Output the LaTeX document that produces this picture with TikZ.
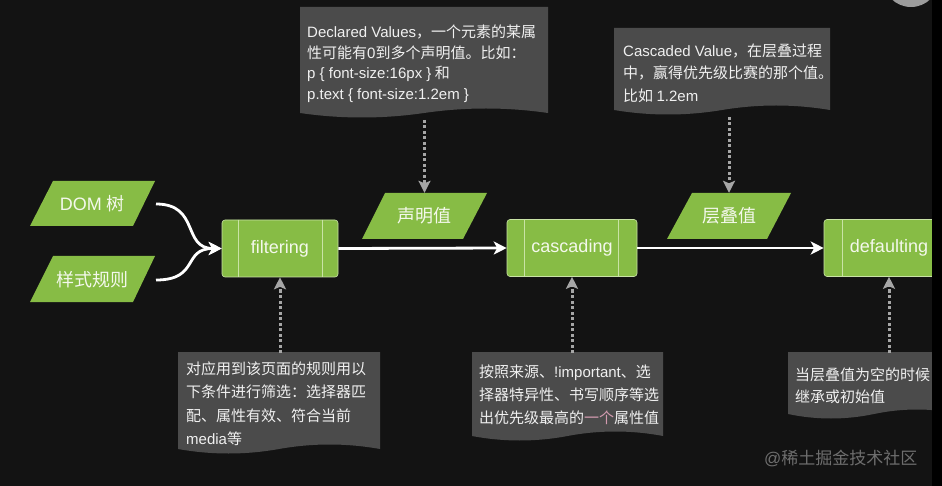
\documentclass[tikz,border=0pt]{standalone}
\usepackage{fontspec}
\setmainfont{Noto Sans CJK SC}
\newfontfamily\lat{Liberation Sans}
\usetikzlibrary{arrows.meta,calc}
\definecolor{bgc}{HTML}{131313}
\definecolor{callfill}{HTML}{4B4B4B}
\definecolor{calltxt}{HTML}{F0F0F0}
\definecolor{grn}{HTML}{87BC45}
\definecolor{grnline}{HTML}{C9E3A6}
\definecolor{grntxt}{HTML}{F4F8EC}
\definecolor{dotgray}{HTML}{A6A6A6}
\definecolor{pinkc}{HTML}{D39BB0}
\definecolor{wmc}{HTML}{6E6E6E}
\definecolor{circc}{HTML}{9C9C9C}
\newcommand\calloutshape[4]{%
  \pgfmathsetmacro\calW{#3-#1}\pgfmathsetmacro\calM{(#1+#3)/2}%
  \fill[callfill] (#1,#2) -- (#3,#2) -- (#3,#4)
    .. controls ({#3-\calW/6},{#4-6}) and ({\calM+\calW/6},{#4-6}) .. (\calM,#4)
    .. controls ({\calM-\calW/6},{#4+6}) and ({#1+\calW/6},{#4+6}) .. (#1,#4) -- cycle;}
\newcommand\paral[6]{% top y, bottom y, top x1, top x2, bottom x1, bottom x2
  \fill[grn] (#3,#1) -- (#4,#1) -- (#6,#2) -- (#5,#2) -- cycle;}
\begin{document}
\begin{tikzpicture}[x=1pt,y=-1pt,
  calltext/.style={text=calltxt, align=left, inner sep=0pt, anchor=north west},
  gtext/.style={text=grntxt, inner sep=0pt, font=\fontsize{18}{18}\selectfont},
  procbox/.style={draw=grnline, line width=0.6pt, fill=grn, rounded corners=3pt,
     minimum height=57pt, inner sep=0pt, text=grntxt, font=\fontsize{18}{18}\lat},
  warrow/.style={draw=white, line width=2.8pt, -{Stealth[length=13pt,width=13pt,inset=3.5pt]}},
  dotarr/.style={draw=dotgray, line width=3pt, dash pattern=on 3pt off 2.5pt,
     -{Stealth[length=12pt,width=12pt,inset=2.5pt]}}]
\fill[bgc] (0,0) rectangle (942,486);
\useasboundingbox (0,0) rectangle (942,486);

% callout shapes
\calloutshape{300}{7}{548}{113}
\calloutshape{614}{28}{830}{110}
\calloutshape{178}{352}{380}{449}
\calloutshape{472}{352}{663}{436}
\calloutshape{788}{352}{960}{414}

% callout texts
\node[calltext, font=\fontsize{15}{20.5}\selectfont] (t1) at (307,25)
  {{\lat Declared Values}，一个元素的某属\\
   性可能有{\lat 0}到多个声明值。比如：\\
   {\lat p \{ font-size:16px \}} 和\\
   {\lat p.text \{ font-size:1.2em \}}};
\node[calltext, font=\fontsize{15}{22.5}\selectfont] (t2) at (623,43.5)
  {{\lat Cascaded Value}，在层叠过程\\
   中，赢得优先级比赛的那个值。\\
   比如 {\lat 1.2em}};
\node[calltext, font=\fontsize{15}{23.3}\selectfont] (b1) at (186,361.5)
  {对应用到该页面的规则用以\\
   下条件进行筛选：选择器匹\\
   配、属性有效、符合当前\\
   {\lat media}等};
\node[calltext, font=\fontsize{15}{23}\selectfont] (b2) at (479,364.5)
  {按照来源、{\lat !important}、选\\
   择器特异性、书写顺序等选\\
   出优先级最高的\textcolor{pinkc}{一个}属性值};
\node[calltext, font=\fontsize{15}{22}\selectfont] (b3) at (795,367.5)
  {当层叠值为空的时候\\
   继承或初始值};

% parallelograms
\paral{181}{226}{53}{155}{30}{133}
\paral{256}{302}{53}{155}{30}{133}
\paral{193}{239}{385}{487}{362}{463}
\paral{193}{239}{692}{791}{667}{767}
\node[gtext, minimum width=80pt, minimum height=45pt] (dom) at (92,204) {{\lat DOM} 树};
\node[gtext, minimum width=80pt, minimum height=46pt] (sty) at (92,279.5) {样式规则};
\node[gtext, minimum width=80pt, minimum height=46pt] (decl) at (424.5,216) {声明值};
\node[gtext, minimum width=80pt, minimum height=46pt] (casv) at (729,216) {层叠值};

% process boxes
\node[procbox, minimum width=116pt] (filt) at (280,248.5) {filtering};
\draw[grnline, line width=0.6pt] ($(filt.north west)+(17,0)$) -- ($(filt.south west)+(17,0)$);
\draw[grnline, line width=0.6pt] ($(filt.north east)+(-16,0)$) -- ($(filt.south east)+(-16,0)$);
\node[procbox, minimum width=130pt] (casc) at (572,248) {cascading};
\draw[grnline, line width=0.6pt] ($(casc.north west)+(18,0)$) -- ($(casc.south west)+(18,0)$);
\draw[grnline, line width=0.6pt] ($(casc.north east)+(-19,0)$) -- ($(casc.south east)+(-19,0)$);
\node[procbox, minimum width=130pt] (deft) at (889,248) {defaulting};
\draw[grnline, line width=0.6pt] ($(deft.north west)+(19,0)$) -- ($(deft.south west)+(19,0)$);

% white connectors
\coordinate (domo) at (156,204);
\coordinate (styo) at (156,280);
\draw[warrow] (domo) .. controls (200,204) and (182,248.5) .. (filt.west);
\draw[warrow] (styo) .. controls (200,280) and (182,248.5) .. (filt.west);
\draw[warrow] (filt.east) -- (casc.west);
\draw[warrow] (casc.east) -- (deft.west);

% dotted connectors
\coordinate (t1b) at (424.5,120);
\coordinate (t2b) at (729,117);
\coordinate (b1t) at (280,353);
\coordinate (b2t) at (572,353);
\coordinate (b3t) at (889,353);
\draw[dotarr] (t1b) -- (decl.north);
\draw[dotarr] (t2b) -- (casv.north);
\draw[dotarr] (b1t) -- (filt.south);
\draw[dotarr] (b2t) -- (casc.south);
\draw[dotarr] (b3t) -- (deft.south);

% watermark
\node[text=wmc, font=\fontsize{17}{17}\selectfont, anchor=west, inner sep=0pt] (wm) at (764,458) {{\lat @}稀土掘金技术社区};

% top-right decoration and right strip
\fill[circc] (911,-21) circle (28);
\fill[black] (932,0) rectangle (942,486);
\end{tikzpicture}
\end{document}
